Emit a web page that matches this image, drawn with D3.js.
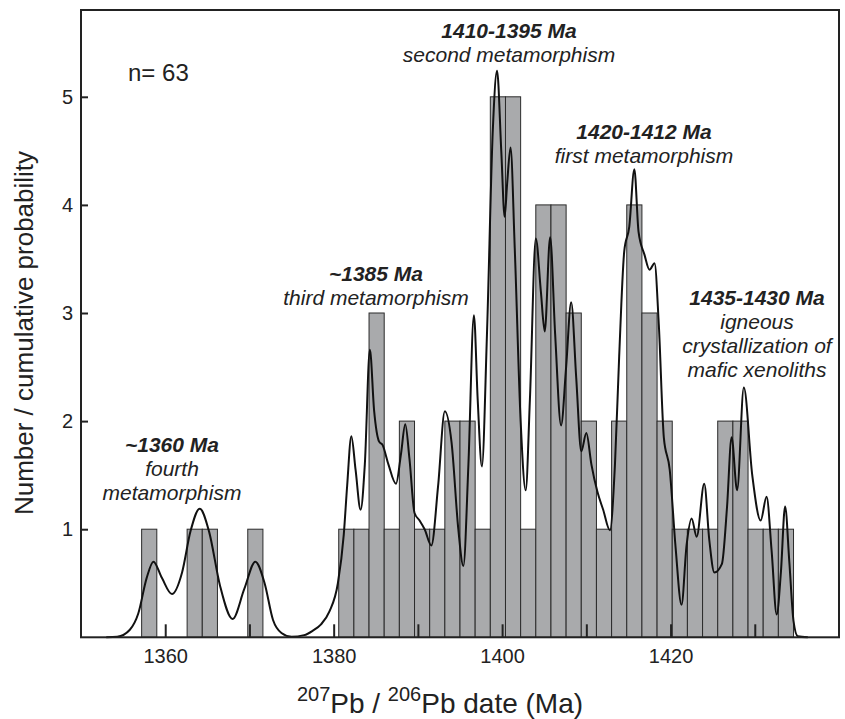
<!DOCTYPE html>
<html>
<head>
<meta charset="utf-8">
<script src="https://cdn.jsdelivr.net/npm/d3@7"></script>
<style>
  html, body { margin: 0; padding: 0; background: #fff; }
  svg { display: block; }
  text { font-family: "Liberation Sans", Arial, Helvetica, sans-serif; fill: #222; }
</style>
</head>
<body>
<svg id="chart" width="845" height="719"></svg>
<script>
// ---------- data ----------
const binStarts = [1357.2, 1362.6, 1364.4, 1369.8, 1380.6, 1382.4, 1384.2, 1386.0, 1387.8, 1389.6,
  1391.4, 1393.2, 1395.0, 1396.8, 1398.6, 1400.4, 1402.2, 1404.0, 1405.8, 1407.6,
  1409.4, 1411.2, 1413.0, 1414.8, 1416.6, 1418.4, 1420.2, 1422.0, 1423.8, 1425.6,
  1427.4, 1429.2, 1431.0, 1432.8];
const binCounts = [1, 1, 1, 1, 1, 1, 3, 1, 2, 1,
  1, 2, 2, 1, 5, 5, 1, 4, 4, 3,
  2, 1, 2, 4, 3, 2, 1, 1, 1, 2,
  2, 1, 1, 1];
const binWidth = 1.8;

// probability density curve (age Ma, value)
const curveAge = [1353.0, 1354.3, 1355.8, 1356.8, 1357.8, 1358.6, 1359.6, 1360.8, 1362.0, 1363.0,
  1364.1, 1365.2, 1366.5, 1368.0, 1369.4, 1370.7, 1371.8, 1372.8, 1373.8, 1375.0,
  1376.5, 1377.5, 1378.5, 1379.5, 1380.5, 1381.2, 1381.6, 1382.1, 1382.6, 1383.2,
  1383.7, 1384.3, 1384.8, 1385.4, 1385.8, 1386.5, 1387.4, 1388.0, 1388.5, 1389.0,
  1389.6, 1390.2, 1390.8, 1391.6, 1392.4, 1393.2, 1394.0, 1394.8, 1395.4, 1396.0,
  1396.65, 1397.1, 1397.6, 1398.2, 1398.9, 1399.4, 1399.9, 1400.3, 1400.6, 1401.0,
  1401.5, 1402.2, 1402.8, 1403.3, 1404.0, 1404.6, 1405.06, 1405.7, 1406.3, 1407.0,
  1407.6, 1408.2, 1408.8, 1409.4, 1410.0, 1410.6, 1411.3, 1412.0, 1412.8, 1413.4,
  1413.9, 1414.5, 1415.1, 1415.7, 1416.2, 1416.9, 1417.5, 1418.1, 1418.6, 1419.2,
  1419.9, 1420.6, 1421.3, 1421.9, 1422.5, 1423.1, 1424.0, 1424.6, 1425.2, 1426.1,
  1426.7, 1427.25, 1427.9, 1428.7, 1429.7, 1430.7, 1431.4, 1432.0, 1432.6, 1433.1,
  1433.6, 1434.1, 1434.6, 1435.1, 1436.3];
const curveValue = [0, 0.005, 0.07, 0.22, 0.55, 0.70, 0.55, 0.40, 0.60, 0.98,
  1.19, 0.98, 0.48, 0.17, 0.45, 0.70, 0.50, 0.16, 0.04, 0.005,
  0.02, 0.06, 0.12, 0.24, 0.50, 0.95, 1.40, 1.86, 1.55, 1.18,
  1.60, 2.66, 2.10, 1.81, 1.78, 1.60, 1.42, 1.70, 1.97, 1.65,
  1.15, 1.08, 1.00, 0.85, 1.40, 2.09, 1.80, 1.00, 0.66, 1.60,
  2.98, 2.20, 1.58, 2.80, 4.70, 5.24, 4.50, 3.89, 4.20, 4.53,
  3.60, 2.00, 1.36, 2.20, 3.69, 3.20, 2.83, 3.70, 2.80, 1.96,
  2.50, 3.10, 2.40, 1.72, 1.89, 1.60, 1.35, 1.18, 0.99, 1.60,
  2.60, 3.57, 3.80, 4.33, 3.75, 3.54, 3.40, 3.46, 2.90, 1.85,
  1.55, 0.83, 0.30, 0.85, 1.10, 0.93, 1.42, 0.90, 0.60, 0.68,
  1.20, 1.85, 1.36, 2.31, 1.50, 1.08, 1.30, 0.80, 0.21, 0.60,
  1.21, 0.70, 0.15, 0.01, 0];

const xTicks = [1360, 1370, 1380, 1390, 1400, 1410, 1420, 1430];
const xTickLabels = [1360, 1380, 1400, 1420];
const yTicks = [1, 2, 3, 4, 5];

const annotations = [
  { age: "1410-1395 Ma", desc: ["second metamorphism"], x: 509, y: 38 },
  { age: "1420-1412 Ma", desc: ["first metamorphism"], x: 644, y: 139 },
  { age: "~1385 Ma", desc: ["third metamorphism"], x: 376, y: 281 },
  { age: "1435-1430 Ma", desc: ["igneous", "crystallization of", "mafic xenoliths"], x: 757, y: 305 },
  { age: "~1360 Ma", desc: ["fourth", "metamorphism"], x: 172, y: 452 }
];

// ---------- layout ----------
const plotL = 81, plotR = 839, plotT = 10, plotB = 637.3;
const svg = d3.select("#chart");

const x = d3.scaleLinear().domain([1350, 1440]).range([plotL, plotR]);
const y = d3.scaleLinear().domain([0, 5.803]).range([plotB, plotT]);

// bars
const bars = binStarts.map((s, i) => ({ s, c: binCounts[i] }));
svg.append("g").selectAll("rect").data(bars).join("rect")
  .attr("x", d => x(d.s))
  .attr("y", d => y(d.c))
  .attr("width", d => x(d.s + binWidth) - x(d.s))
  .attr("height", d => y(0) - y(d.c))
  .attr("fill", "#a9aaac")
  .attr("stroke", "#2b2b2b")
  .attr("stroke-width", 1);

// curve
const pts = curveAge.map((a, i) => [a, curveValue[i]]);
svg.append("path")
  .datum(pts)
  .attr("fill", "none")
  .attr("stroke", "#111")
  .attr("stroke-width", 2)
  .attr("d", d3.line().x(d => x(d[0])).y(d => y(d[1])).curve(d3.curveMonotoneX));

// frame
svg.append("rect")
  .attr("x", plotL).attr("y", plotT)
  .attr("width", plotR - plotL).attr("height", plotB - plotT)
  .attr("fill", "none").attr("stroke", "#222").attr("stroke-width", 2);

// x axis ticks (inward)
const xAxis = d3.axisBottom(x).tickValues(xTicks).tickSizeInner(-13).tickSizeOuter(0)
  .tickFormat(d => xTickLabels.includes(d) ? String(d) : "").tickPadding(12);
const gx = svg.append("g").attr("transform", `translate(0,${plotB})`).call(xAxis);
gx.select(".domain").remove();
gx.selectAll(".tick line").attr("stroke", "#222").attr("stroke-width", 2);
gx.selectAll(".tick text").attr("font-size", 20).attr("fill", "#222")
  .attr("font-family", "Liberation Sans, Arial, sans-serif");

// y axis ticks (inward)
const yAxis = d3.axisLeft(y).tickValues(yTicks).tickFormat(d3.format("d"))
  .tickSizeInner(-7).tickSizeOuter(0).tickPadding(8);
const gy = svg.append("g").attr("transform", `translate(${plotL},0)`).call(yAxis);
gy.select(".domain").remove();
gy.selectAll(".tick line").attr("stroke", "#222").attr("stroke-width", 2);
gy.selectAll(".tick text").attr("font-size", 20).attr("fill", "#222")
  .attr("font-family", "Liberation Sans, Arial, sans-serif");

// n= 63
svg.append("text").attr("x", 128).attr("y", 81).attr("font-size", 24).text("n= 63");

// annotations
annotations.forEach(a => {
  const t = svg.append("text").attr("text-anchor", "middle").attr("font-size", 21);
  t.append("tspan").attr("x", a.x).attr("y", a.y)
    .attr("font-weight", "bold").attr("font-style", "italic").text(a.age);
  a.desc.forEach((line, i) => {
    t.append("tspan").attr("x", a.x).attr("y", a.y + 24 * (i + 1))
      .attr("font-style", "italic").text(line);
  });
});

// y axis title
svg.append("text")
  .attr("transform", "translate(33,333) rotate(-90)")
  .attr("text-anchor", "middle").attr("font-size", 26)
  .text("Number / cumulative probability");

// x axis title
const xt = svg.append("text").attr("x", 440).attr("y", 713).attr("text-anchor", "middle").attr("font-size", 28);
xt.append("tspan").attr("font-size", 20).attr("dy", -12).text("207");
xt.append("tspan").attr("dy", 12).text("Pb / ");
xt.append("tspan").attr("font-size", 20).attr("dy", -12).text("206");
xt.append("tspan").attr("dy", 12).text("Pb date (Ma)");
</script>
</body>
</html>
